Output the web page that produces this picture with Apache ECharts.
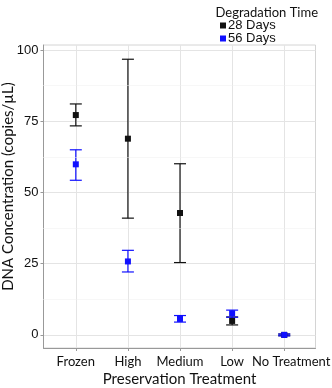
<!DOCTYPE html>
<html>
<head>
<meta charset="utf-8">
<script src="https://cdn.jsdelivr.net/npm/echarts@6/dist/echarts.min.js"></script>
<style>
  html, body { margin: 0; padding: 0; background: #fff; }
  #chart { width: 332px; height: 388px; }
</style>
</head>
<body>
<div id="chart"></div>
<script>
var categories = ["Frozen", "High", "Medium", "Low", "No Treatment"];
var yTicks = [0, 25, 50, 75, 100];
var yMinor = [12.5, 37.5, 62.5, 87.5];

// 28 days
var mean28 = [77.2, 68.9, 42.8, 4.9, 0];
var low28 = [73.4, 41.0, 25.4, 3.5, -0.3];
var high28 = [81.1, 96.8, 60.1, 6.3, 0.3];
// 56 days
var mean56 = [59.9, 25.8, 5.6, 7.6, 0];
var low56 = [54.3, 22.1, 4.5, 6.2, -0.3];
var high56 = [65.0, 29.7, 6.8, 8.7, 0.3];

var black = "#111";
var blue = "#1010ff";

function points(means) {
  return means.map(function (v, i) { return [i, v]; });
}
function bars(lows, highs) {
  return lows.map(function (v, i) { return [i, v, highs[i]]; });
}

function errorBar(color) {
  return function (params, api) {
    var x = api.value(0);
    var lo = api.coord([x, api.value(1)]);
    var hi = api.coord([x, api.value(2)]);
    var w = 6;
    var style = { stroke: color, lineWidth: 1.2 };
    return {
      type: "group",
      children: [
        { type: "line", shape: { x1: lo[0], y1: lo[1], x2: hi[0], y2: hi[1] }, style: style },
        { type: "line", shape: { x1: lo[0] - w, y1: lo[1], x2: lo[0] + w, y2: lo[1] }, style: style },
        { type: "line", shape: { x1: hi[0] - w, y1: hi[1], x2: hi[0] + w, y2: hi[1] }, style: style }
      ]
    };
  };
}

var myChart = echarts.init(document.getElementById("chart"));

var option = {
  animation: false,
  backgroundColor: "#fff",
  title: {
    text: "Degradation Time",
    right: 9,
    top: 1,
    textStyle: { fontFamily: "Lato", fontSize: 13, fontWeight: "normal", color: "#111" }
  },
  legend: {
    orient: "vertical",
    left: 215,
    top: 14,
    itemWidth: 6,
    itemHeight: 6,
    itemGap: 0,
    icon: "rect",
    data: ["28 Days", "56 Days"],
    textStyle: { fontFamily: "Liberation Sans", fontSize: 13, lineHeight: 11, color: "#111", padding: [0, 0, 0, -3] }
  },
  grid: {
    left: 43.5,
    right: 16.5,
    top: 45,
    bottom: 40,
    outerBoundsMode: "none",
    containLabel: false,
    show: true,
    borderColor: "#d4d4d4",
    borderWidth: 1
  },
  xAxis: {
    type: "value",
    min: -0.62,
    max: 4.6,
    name: "Preservation Treatment",
    nameLocation: "middle",
    nameGap: 24,
    nameMoveOverlap: false,
    nameTextStyle: { fontFamily: "Lato", fontSize: 15, color: "#111" },
    axisLine: { show: true, onZero: false, lineStyle: { color: "#999" } },
    axisTick: { show: true, length: 3, lineStyle: { color: "#999" }, customValues: [0, 1, 2, 3, 4] },
    axisLabel: {
      customValues: [0, 1, 2, 3, 4],
      hideOverlap: false,
      margin: 7,
      fontFamily: "Lato",
      fontSize: 13,
      color: "#111",
      formatter: function (v) {
        var i = Math.round(v);
        return i === 4 ? "{p|" + categories[i] + "}" : categories[i];
      },
      rich: { p: { fontFamily: "Lato", fontSize: 13, color: "#111", padding: [0, 0, 0, 14] } }
    },
    splitLine: { show: true, lineStyle: { color: "#e4e4e4" } }
  },
  yAxis: {
    type: "value",
    min: -4.6,
    max: 101.8,
    name: "DNA Concentration (copies/\u00b5L)",
    nameLocation: "middle",
    nameGap: 28,
    nameMoveOverlap: false,
    nameTextStyle: { fontFamily: "Lato", fontSize: 15, color: "#111", padding: [0, 0, 0, 20] },
    axisLine: { show: true, onZero: false, lineStyle: { color: "#999" } },
    axisTick: { show: true, length: 3, lineStyle: { color: "#999" }, customValues: yTicks },
    axisLabel: {
      customValues: yTicks,
      margin: 5,
      fontFamily: "Liberation Sans",
      fontSize: 13,
      color: "#111"
    },
    splitLine: { show: true, lineStyle: { color: "#e4e4e4" } }
  },
  series: [
    {
      name: "28 Days",
      type: "custom",
      renderItem: errorBar(black),
      itemStyle: { color: black },
      data: bars(low28, high28),
      z: 2
    },
    {
      name: "56 Days",
      type: "custom",
      renderItem: errorBar(blue),
      itemStyle: { color: blue },
      data: bars(low56, high56),
      z: 2
    },
    {
      name: "28 Days",
      type: "scatter",
      symbol: "rect",
      symbolSize: 6,
      itemStyle: { color: black, opacity: 1 },
      data: points(mean28),
      z: 3,
      markLine: {
        silent: true,
        symbol: "none",
        label: { show: false },
        lineStyle: { color: "#eeeeee", type: "dotted", width: 1 },
        data: yMinor.map(function (v) { return { yAxis: v }; })
      }
    },
    {
      name: "56 Days",
      type: "scatter",
      symbol: "rect",
      symbolSize: 6,
      itemStyle: { color: blue, opacity: 1 },
      data: points(mean56),
      z: 3
    }
  ]
};

myChart.setOption(option);
</script>
</body>
</html>
